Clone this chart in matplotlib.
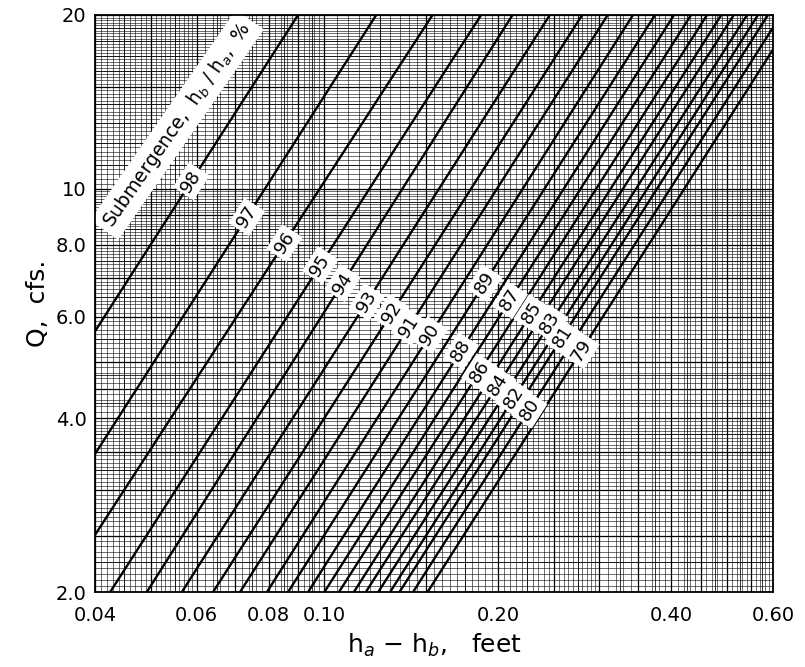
import numpy as np
import matplotlib
matplotlib.use("Agg")
import matplotlib.pyplot as plt
from matplotlib.ticker import FixedLocator, NullLocator

plt.rcParams['font.family'] = ['DejaVu Sans']
plt.rcParams['mathtext.fontset'] = 'dejavusans'

submergence = [98, 97, 96, 95, 94, 93, 92, 91, 90, 89,
               88, 87, 86, 85, 84, 83, 82, 81, 80, 79]
h_at_q2 = [0.0205, 0.0281, 0.0345, 0.0425, 0.0492, 0.0566, 0.0641, 0.0714, 0.0795, 0.0865,
           0.0937, 0.100, 0.106, 0.1125, 0.118, 0.124, 0.130, 0.135, 0.1425, 0.151]
h_at_q20 = [0.090, 0.123, 0.154, 0.187, 0.212, 0.246, 0.280, 0.310, 0.343, 0.3745,
            0.404, 0.4325, 0.461, 0.488, 0.513, 0.541, 0.565, 0.588, 0.6195, 0.655]
# Q where each number label sits on its curve
label_q = [10.3, 8.93, 8.05, 7.37, 6.86, 6.36, 6.09, 5.76, 5.58, 6.86,
           5.23, 6.41, 4.81, 6.09, 4.57, 5.85, 4.34, 5.53, 4.14, 5.25]

q_ticks = [2, 4, 6, 8, 10, 20]
q_tick_labels = ['2.0', '4.0', '6.0', '8.0', '10', '20']
h_ticks = [0.04, 0.06, 0.08, 0.10, 0.20, 0.40, 0.60]
h_tick_labels = ['0.04', '0.06', '0.08', '0.10', '0.20', '0.40', '0.60']

fig = plt.figure(figsize=(8.05, 6.67), dpi=100)
ax = fig.add_axes([95 / 805, 1 - 592 / 667, 678 / 805, 577 / 667])
ax.set_xscale('log')
ax.set_yscale('log')
ax.set_xlim(0.04, 0.60)
ax.set_ylim(2, 20)

# log paper grid
def grid_v(vals, lw):
    ax.vlines(vals, 2, 20, colors='black', linewidth=lw, zorder=1)

def grid_h(vals, lw):
    ax.hlines(vals, 0.04, 0.60, colors='black', linewidth=lw, zorder=1)

fine_x = np.concatenate([np.arange(0.04, 0.06, 0.001), np.arange(0.06, 0.1, 0.002),
                         np.arange(0.1, 0.3, 0.005), np.arange(0.3, 0.6, 0.01)])
mid_x = np.concatenate([np.arange(0.04, 0.1, 0.005), np.arange(0.1, 0.6, 0.025)])
major_x = np.concatenate([np.arange(0.04, 0.1, 0.01), np.arange(0.1, 0.61, 0.05)])
fine_y = np.concatenate([np.arange(2, 4, 0.05), np.arange(4, 10, 0.1), np.arange(10, 20, 0.2)])
mid_y = np.concatenate([np.arange(2, 5, 0.25), np.arange(5, 10, 0.5), np.arange(10, 20, 1)])
major_y = np.concatenate([np.arange(2, 5, 0.5), np.arange(5, 10, 1), np.arange(10, 21, 5)])
grid_v(fine_x, 0.4)
grid_h(fine_y, 0.4)
grid_v(mid_x, 0.55)
grid_h(mid_y, 0.55)
grid_v(major_x, 0.9)
grid_h(major_y, 0.9)

fig.canvas.draw()
for s, h2, h20, lq in zip(submergence, h_at_q2, h_at_q20, label_q):
    ax.plot([h2, h20], [2, 20], color='black', linewidth=1.7, zorder=3,
            solid_capstyle='butt')
    p1 = ax.transData.transform((h2, 2))
    p2 = ax.transData.transform((h20, 20))
    ang = np.degrees(np.arctan2(p2[1] - p1[1], p2[0] - p1[0]))
    hx = h2 * (h20 / h2) ** np.log10(lq / 2)
    ax.text(hx, lq, str(s), rotation=ang, rotation_mode='anchor',
            ha='center', va='center', fontsize=13, zorder=5,
            bbox=dict(boxstyle='square,pad=0.18', facecolor='white', edgecolor='none'))

p1 = ax.transData.transform((h_at_q2[0], 2))
p2 = ax.transData.transform((h_at_q20[0], 20))
ang0 = np.degrees(np.arctan2(p2[1] - p1[1], p2[0] - p1[0]))
ax.text(0.0555, 12.9, r'Submergence,  h$_b$ / h$_a$,  %', rotation=ang0 - 2,
        rotation_mode='anchor', ha='center', va='center', fontsize=13.5, zorder=5,
        bbox=dict(boxstyle='square,pad=0.3', facecolor='white', edgecolor='none'))

ax.xaxis.set_major_locator(FixedLocator(h_ticks))
ax.xaxis.set_minor_locator(NullLocator())
ax.set_xticklabels(h_tick_labels)
ax.yaxis.set_major_locator(FixedLocator(q_ticks))
ax.yaxis.set_minor_locator(NullLocator())
ax.set_yticklabels(q_tick_labels)
ax.tick_params(length=0, labelsize=14)
ax.tick_params(axis='x', pad=10)
ax.tick_params(axis='y', pad=6)

for sp in ax.spines.values():
    sp.set_linewidth(1.3)
    sp.set_zorder(6)

ax.set_ylabel('Q,  cfs.', fontsize=18, labelpad=4)
ax.set_xlabel(r'h$_a$ $-$ h$_b$,   feet', fontsize=18, labelpad=5)

fig.savefig('out.png', dpi=100)
